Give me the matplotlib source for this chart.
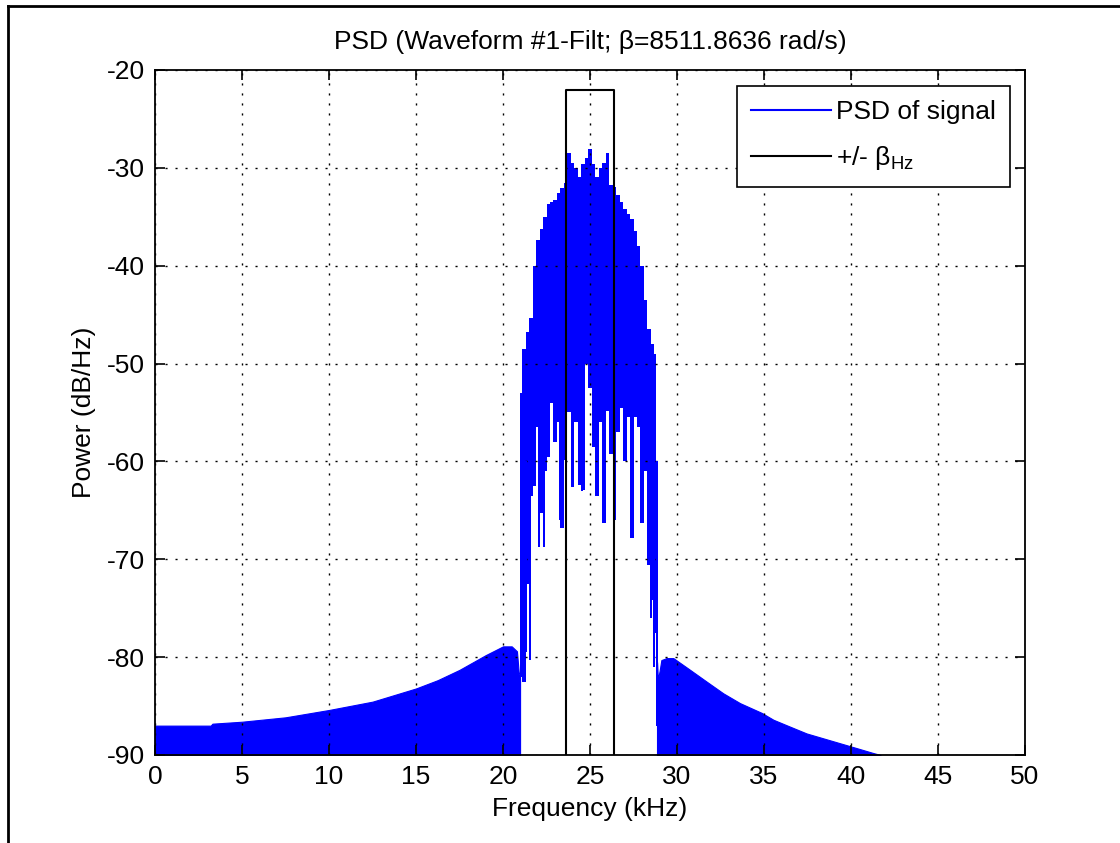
import matplotlib
matplotlib.use("Agg")
import matplotlib.pyplot as plt
from matplotlib.lines import Line2D

plt.rcParams["font.family"] = ["Liberation Sans", "DejaVu Sans"]
plt.rcParams["mathtext.fontset"] = "custom"
plt.rcParams["mathtext.rm"] = "Liberation Sans"
plt.rcParams["mathtext.it"] = "Liberation Sans"
plt.rcParams["axes.unicode_minus"] = False

# left skirt of the PSD (kHz, dB/Hz), filled down to the floor
left_f = [0.0, 3.2, 3.3, 5.0, 7.5, 10.0, 12.5, 15.0, 16.25, 17.5, 19.0, 20.0, 20.5, 20.8, 20.9, 20.98]
left_db = [-87.0, -87.0, -86.8, -86.6, -86.15, -85.4, -84.55, -83.2, -82.35, -81.3, -79.8, -78.9, -78.9, -79.4, -81.5, -82.0]

# right skirt
right_f = [28.85, 28.9, 29.0, 29.1, 29.4, 29.79, 30.75, 31.7, 32.66, 33.62, 34.87, 35.54,
           36.49, 37.45, 38.41, 39.37, 40.33, 41.28, 41.7]
right_db = [-80.5, -82.3, -81.4, -80.3, -80.1, -80.1, -81.3, -82.5, -83.7, -84.7, -85.7, -86.4,
            -87.1, -87.8, -88.3, -88.8, -89.3, -89.8, -90.0]

# main lobe: per-bin maximum and minimum of the oscillating PSD
band_f = [21.0, 21.2, 21.4, 21.6, 21.8, 22.0, 22.2, 22.4, 22.6, 22.8,
          23.0, 23.2, 23.4, 23.6, 23.8, 24.0, 24.2, 24.4, 24.6, 24.8,
          25.0, 25.2, 25.4, 25.6, 25.8, 26.0, 26.2, 26.4, 26.6, 26.8,
          27.0, 27.2, 27.4, 27.6, 27.8, 28.0, 28.2, 28.4, 28.6, 28.8]
band_hi = [-53.0, -48.5, -46.8, -45.3, -40.0, -37.4, -36.2, -35.0, -33.7, -33.5,
           -33.3, -32.6, -32.1, -31.6, -28.5, -29.5, -30.0, -30.9, -29.6, -29.0,
           -28.1, -29.6, -30.9, -30.0, -29.5, -28.5, -31.8, -32.0, -32.8, -33.5,
           -34.2, -34.7, -35.2, -36.5, -38.0, -40.0, -43.5, -46.5, -48.0, -49.0]
band_lo = [-82.0, -82.5, -72.5, -63.5, -62.5, -56.5, -65.3, -61.0, -59.5, -54.0,
           -58.0, -56.0, -66.8, -59.9, -55.0, -62.6, -56.0, -62.4, -62.9, -50.0,
           -52.5, -58.5, -63.5, -56.0, -66.3, -54.8, -59.2, -66.0, -57.0, -54.5,
           -60.0, -55.5, -67.8, -55.5, -56.5, -66.3, -61.0, -70.6, -74.2, -77.5]

# thin single-sample dips inside the main lobe
spike_f = [21.08, 21.3, 21.55, 22.05, 22.35, 23.3, 24.55, 25.75, 27.35, 28.5, 28.7, 28.83]
spike_lo = [-80.0, -79.5, -80.3, -68.7, -68.7, -66.0, -63.0, -66.3, -66.0, -76.0, -81.0, -87.0]
spike_hi = [-60.0, -60.0, -60.0, -55.0, -55.0, -55.0, -52.0, -52.0, -55.0, -60.0, -60.0, -60.0]

# +/- beta_Hz box around the 25 kHz carrier
beta_f = [23.645, 23.645, 26.355, 26.355]
beta_db = [-90, -22, -22, -90]

blue = "#0000ff"
fs = 19

fig = plt.figure(figsize=(11.2, 8.43), dpi=100)
ax = fig.add_axes([0.1384, 0.1044, 0.7768, 0.8126])

ax.fill_between(left_f, -90, left_db, color=blue, lw=0.8)
ax.fill_between(right_f, -90, right_db, color=blue, lw=0.8)
ax.fill_between(band_f, band_lo, band_hi, step="mid", color=blue, lw=0, antialiased=False)
ax.vlines(spike_f, spike_lo, spike_hi, color=blue, lw=1.2, antialiased=False)
ax.plot([], [], color=blue, lw=1.5, label="PSD of signal")
ax.plot(beta_f, beta_db, color="black", lw=1.5, label=r"+/- $\beta_{\mathrm{Hz}}$")

ax.set_xlim(0, 50)
ax.set_ylim(-90, -20)
ax.set_xticks(range(0, 51, 5))
ax.set_yticks(range(-90, -19, 10))
ax.grid(True, color="black", linestyle=(0, (1.5, 5.7)), lw=1.0)
ax.tick_params(direction="in", length=7, width=1.2, top=True, right=True,
               labelsize=fs, pad=7)
for s in ax.spines.values():
    s.set_linewidth(1.3)

ax.set_title("PSD (Waveform #1-Filt; β=8511.8636 rad/s)", fontsize=fs, pad=15)
ax.set_xlabel("Frequency (kHz)", fontsize=fs, labelpad=6)
ax.set_ylabel("Power (dB/Hz)", fontsize=fs, labelpad=8)

leg = ax.legend(loc="upper right", bbox_to_anchor=(0.983, 0.977), borderaxespad=0,
                fontsize=fs, handlelength=3.0, handletextpad=0.2, fancybox=False,
                framealpha=1, edgecolor="black", borderpad=0.55, labelspacing=0.75)
leg.get_frame().set_linewidth(1.2)

# outer frame of the screenshot
fig.add_artist(Line2D([8 / 1120, 8 / 1120], [0, 1 - 6 / 843], color="black", lw=2,
                      transform=fig.transFigure))
fig.add_artist(Line2D([8 / 1120, 1], [1 - 6 / 843, 1 - 6 / 843], color="black", lw=2,
                      transform=fig.transFigure))

fig.savefig("out.png", dpi=100)
